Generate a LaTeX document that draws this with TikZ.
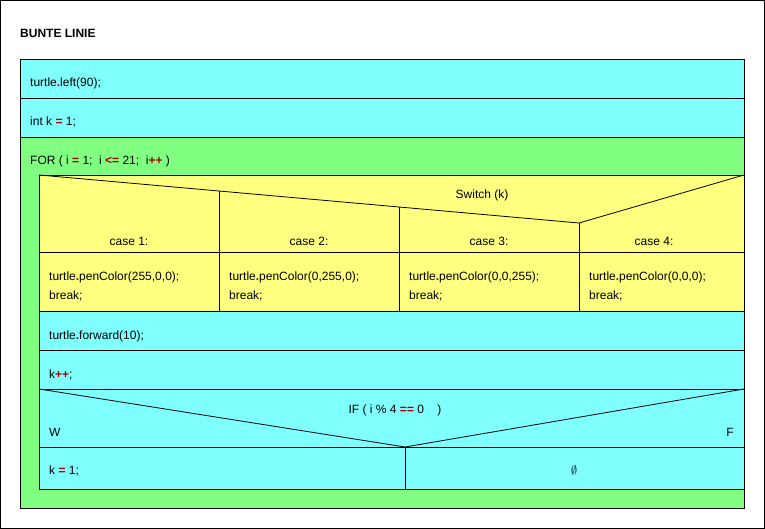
\documentclass[tikz,border=0pt]{standalone}
\usepackage{fontspec}
\setmainfont{Liberation Sans}
\definecolor{cy}{HTML}{80FFFF}
\definecolor{gr}{HTML}{80FF80}
\definecolor{ye}{HTML}{FFFF80}
\definecolor{op}{HTML}{A00000}
\newcommand{\rop}[1]{\textcolor{op}{\textbf{#1}}}
\begin{document}
\begin{tikzpicture}[x=1pt,y=-1pt,font=\fontsize{12}{14.5}\selectfont,
  box/.style={draw=black,line width=0.8pt},
  t/.style={anchor=base west,inner sep=0pt},
  c/.style={anchor=base,inner sep=0pt}]
\useasboundingbox (0,0) rectangle (765,529);
\draw[line width=0.8pt] (0.5,0.5) rectangle (764.5,528.5);
\node[t,font=\fontsize{12}{14}\selectfont\bfseries] (title) at (20,38) {BUNTE LINIE};
% main
\filldraw[box,fill=cy] (20,59) rectangle (744,98);
\filldraw[box,fill=cy] (20,98) rectangle (744,137);
\filldraw[box,fill=gr] (20,137) rectangle (744,508);
\node[t] (r1) at (30,87) {turtle\rop{.}left(90);};
\node[t] (r2) at (30,126) {int k \rop{=} 1;};
\node[t] (r3) at (30,165) {FOR ( i \rop{=} 1;\ \ i \rop{<=} 21;\ \ i\rop{++} )};
% switch
\filldraw[box,fill=ye] (39,175) rectangle (744,311);
\draw[box] (39,252) -- (744,252);
\draw[box] (39,175) -- (579,223) -- (744,175);
\draw[box] (219,191) -- (219,311);
\draw[box] (399,207) -- (399,311);
\draw[box] (579,223) -- (579,311);
\node[c] (sw) at (482,199) {Switch (k)};
\node[c] (c1) at (129,246) {case 1:};
\node[c] (c2) at (309,246) {case 2:};
\node[c] (c3) at (489,246) {case 3:};
\node[c] (c4) at (654,246) {case 4:};
\node[t] (b1) at (49,280) {turtle\rop{.}penColor(255,0,0);};
\node[t] (b1b) at (49,299) {break;};
\node[t] (b2) at (229,280) {turtle\rop{.}penColor(0,255,0);};
\node[t] (b2b) at (229,299) {break;};
\node[t] (b3) at (409,280) {turtle\rop{.}penColor(0,0,255);};
\node[t] (b3b) at (409,299) {break;};
\node[t] (b4) at (589,280) {turtle\rop{.}penColor(0,0,0);};
\node[t] (b4b) at (589,299) {break;};
% forward, k++
\filldraw[box,fill=cy] (39,311) rectangle (744,350);
\filldraw[box,fill=cy] (39,350) rectangle (744,389);
\node[t] (fw) at (49,339) {turtle\rop{.}forward(10);};
\node[t] (kk) at (49,378) {k\rop{++};};
% if
\filldraw[box,fill=cy] (39,389) rectangle (744,489);
\draw[box] (39,389) -- (405,447) -- (744,389);
\draw[box] (39,447) -- (744,447);
\draw[box] (405,447) -- (405,489);
\node[c] (if) at (395,413) {IF ( i \% 4 \rop{==} 0\ \ \ \ )};
\node[t] (w) at (49,436) {W};
\node[anchor=base east,inner sep=0pt] (f) at (734,436) {F};
\node[t] (k1) at (49,474) {k \rop{=} 1;};
\node[c] (empty) at (574,474) {$\emptyset$};
\end{tikzpicture}
\end{document}
